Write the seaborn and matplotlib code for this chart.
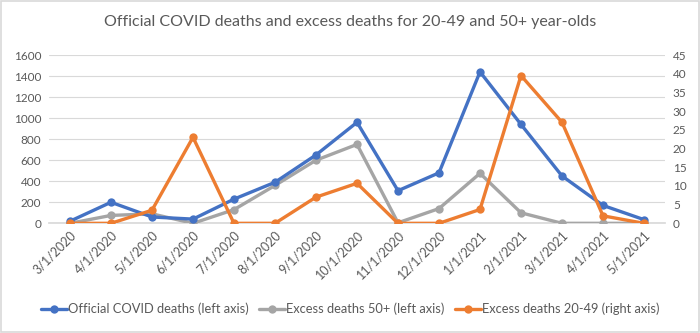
import matplotlib
matplotlib.use("Agg")
import matplotlib.pyplot as plt
import matplotlib.transforms as mtransforms
from matplotlib.patches import Rectangle
from matplotlib.lines import Line2D
import seaborn as sns
import pandas as pd

months = ["3/1/2020", "4/1/2020", "5/1/2020", "6/1/2020", "7/1/2020", "8/1/2020",
          "9/1/2020", "10/1/2020", "11/1/2020", "12/1/2020", "1/1/2021", "2/1/2021",
          "3/1/2021", "4/1/2021", "5/1/2021"]
official_deaths = [20, 200, 60, 40, 230, 390, 650, 960, 310, 480, 1440, 940, 450, 170, 35]
excess_50plus = [0, 75, 90, 0, 130, 360, 600, 750, 5, 140, 475, 100, 0, 0, 0]
excess_20_49 = [0, 0, 3.5, 23, 0, 0, 7, 10.7, 0, 0, 3.7, 39.5, 27, 2, 0]

left_ticks = [0, 200, 400, 600, 800, 1000, 1200, 1400, 1600]
right_ticks = [0, 5, 10, 15, 20, 25, 30, 35, 40, 45]

BLUE = "#4472C4"
GRAY = "#A5A5A5"
ORANGE = "#ED7D31"
TEXT = "#595959"
GRID = "#D9D9D9"

sns.set_theme(style="white")
plt.rcParams["font.family"] = ["Lato", "DejaVu Sans"]

df = pd.DataFrame({
    "pos": range(len(months)),
    "official": official_deaths,
    "excess50": excess_50plus,
    "excess2049": excess_20_49,
})

fig = plt.figure(figsize=(7, 3.33), dpi=100)
ax = fig.add_axes([0.0707, 0.3294, 0.8786, 0.5054])
ax2 = ax.twinx()

line_kw = dict(marker="o", markersize=6, linewidth=2.4, markeredgewidth=0)
sns.lineplot(data=df, x="pos", y="official", ax=ax, color=BLUE, zorder=4, **line_kw)
sns.lineplot(data=df, x="pos", y="excess50", ax=ax, color=GRAY, zorder=3, **line_kw)
sns.lineplot(data=df, x="pos", y="excess2049", ax=ax2, color=ORANGE, zorder=5, **line_kw)

ax.set_xlim(-0.5, len(months) - 0.5)
ax.set_ylim(0, 1600)
ax2.set_ylim(0, 45)
ax.set_yticks(left_ticks)
ax2.set_yticks(right_ticks)
ax.set_xticks(range(len(months)))
ax.set_xticklabels(months, rotation=45, ha="right", rotation_mode="anchor",
                   fontsize=9, color=TEXT)
shift = mtransforms.ScaledTranslation(5 / 72, 0, fig.dpi_scale_trans)
for lbl in ax.get_xticklabels():
    lbl.set_transform(lbl.get_transform() + shift)
ax.set_xticks([i - 0.5 for i in range(len(months) + 1)], minor=True)

for a in (ax, ax2):
    a.set_xlabel("")
    a.set_ylabel("")
    for s in a.spines.values():
        s.set_visible(False)
    a.tick_params(axis="y", length=0, labelsize=8.5, labelcolor=TEXT, pad=6)

ax.spines["bottom"].set_visible(True)
ax.spines["bottom"].set_color(GRID)
ax.tick_params(axis="x", which="major", length=0, pad=4)
ax.tick_params(axis="x", which="minor", length=4, color=GRID, width=0.8)
ax.yaxis.grid(True, color=GRID, linewidth=0.8)
ax.set_axisbelow(True)

fig.suptitle("Official COVID deaths and excess deaths for 20-49 and 50+ year-olds",
             y=0.955, fontsize=11.5, color=TEXT)

handles = [
    Line2D([], [], color=BLUE, marker="o", markersize=6, linewidth=2.4, markeredgewidth=0),
    Line2D([], [], color=GRAY, marker="o", markersize=6, linewidth=2.4, markeredgewidth=0),
    Line2D([], [], color=ORANGE, marker="o", markersize=6, linewidth=2.4, markeredgewidth=0),
]
labels = ["Official COVID deaths (left axis)", "Excess deaths 50+ (left axis)",
          "Excess deaths 20-49 (right axis)"]
fig.legend(handles, labels, loc="center", bbox_to_anchor=(0.5, 0.072), ncol=3,
           frameon=False, fontsize=9.3, labelcolor=TEXT, handlelength=2.0,
           handletextpad=0.1, columnspacing=0.8)

fig.patches.append(Rectangle((0.002, 0.003), 0.996, 0.994, transform=fig.transFigure,
                             fill=False, edgecolor=GRID, linewidth=1.2))

fig.savefig("out.png", dpi=100)
